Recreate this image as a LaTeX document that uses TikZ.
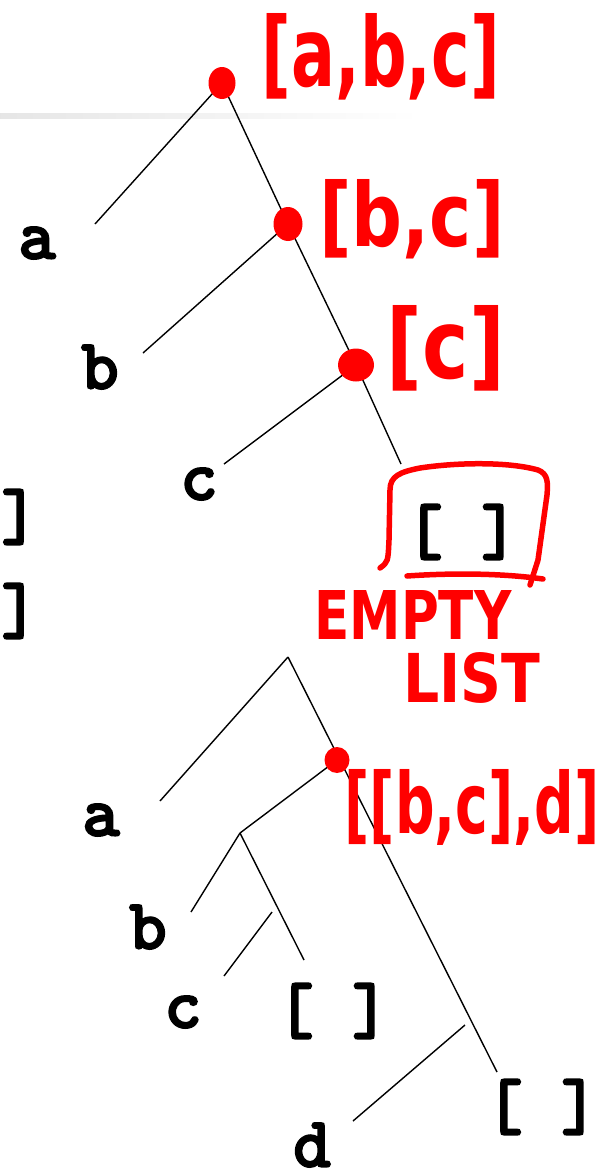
\documentclass[tikz,border=0pt]{standalone}
\usepackage{fontspec}
\usepackage{graphicx}
\newfontfamily\handfont{DejaVu Sans}
\newfontfamily\leaffont{lmmonolt10-bold.otf}[FakeBold=2.2]
\usetikzlibrary{shapes.geometric}

\tikzset{
  branch/.style={line width=1.4pt, black},
  leaf/.style={font=\leaffont\fontsize{72}{72}\selectfont, inner sep=0pt},
  knot/.style={ellipse, fill=red, draw=none, inner sep=0pt},
  note/.style={text=red, inner sep=0pt, font=\handfont\bfseries},
  scribble/.style={red, line width=5.5pt, line cap=round, line join=round},
}
% squeeze a handwritten-style note into a given width and height
\newcommand\notebox[3]{\resizebox{#1}{#2}{#3}}

\begin{document}
\begin{tikzpicture}[x=1pt, y=-1pt]
\useasboundingbox (0,0) rectangle (603,1173);

% faint rule across the top
\shade[left color=black!10, right color=white] (0,113) rectangle (420,118);

% ---- upper tree: [a,b,c] ----
\coordinate (T0) at (222,83);
\coordinate (T1) at (288,224);
\coordinate (T2) at (356,365);
\coordinate (ta) at (95,224);
\coordinate (tb) at (143,353);
\coordinate (tc) at (224,464);
\coordinate (te) at (401,464);

\draw[branch] (T0) -- (ta);
\draw[branch] (T0) -- (T1);
\draw[branch] (T1) -- (tb);
\draw[branch] (T1) -- (T2);
\draw[branch] (T2) -- (tc);
\draw[branch] (T2) -- (te);

\node[leaf] (la) at (37,243) {a};
\node[leaf] (lb) at (100,367) {b};
\node[leaf] (lc) at (199,484) {c};
\node[leaf] (lnil) at (462,532) {[ ]};

% partly hidden list endings at the left edge
\node[leaf] (r1) at (20,517) {]};
\node[leaf] (r2) at (20,611) {]};

% ---- lower tree: [[b,c],d] ----
\coordinate (B0) at (288,657);
\coordinate (B1) at (337,760);
\coordinate (B2) at (240,833);
\coordinate (ba) at (160,801);
\coordinate (be) at (497,1072);
\coordinate (bb) at (191,912);
\coordinate (bn) at (304,960);
\coordinate (cs1) at (272,912);
\coordinate (cs2) at (224,976);
\coordinate (ds1) at (465,1025);
\coordinate (ds2) at (353,1121);

\draw[branch] (B0) -- (ba);
\draw[branch] (B0) -- (be);
\draw[branch] (B1) -- (B2);
\draw[branch] (B2) -- (bb);
\draw[branch] (B2) -- (bn);
\draw[branch] (cs1) -- (cs2);
\draw[branch] (ds1) -- (ds2);

\node[leaf] (ma) at (101,820) {a};
\node[leaf] (mb) at (148,927) {b};
\node[leaf] (mc) at (183,1012) {c};
\node[leaf] (mnil) at (333,1011) {[ ]};
\node[leaf] (nnil) at (542,1107) {[ ]};
\node[leaf] (md) at (312,1145) {d};

% ---- red annotations ----
\node[knot, minimum width=27pt, minimum height=32pt] (k0) at (T0) {};
\node[knot, minimum width=29pt, minimum height=34pt] (k1) at (T1) {};
\node[knot, minimum width=36pt, minimum height=33pt] (k2) at (T2) {};
\node[knot, minimum width=25pt, minimum height=26pt] (k3) at (B1) {};

\node[note] (n0) at (381,57) {\notebox{238pt}{73pt}{[a,b,c]}};
\node[note] (n1) at (412,219) {\notebox{185pt}{67pt}{[b,c]}};
\node[note] (n2) at (446,348) {\notebox{118pt}{73pt}{[c]}};
\node[note] (n3) at (413,615) {\notebox{197pt}{49pt}{EMPTY}};
\node[note] (n4) at (472,678) {\notebox{137pt}{50pt}{LIST}};
\node[note] (n5) at (472,807) {\notebox{255pt}{64pt}{[[b,c],d]}};

% hand-drawn frame round the empty list
\draw[scribble] (380,568) .. controls (388,562) .. (389,540) -- (390,490)
  .. controls (390,476) and (400,472) .. (420,468)
  .. controls (460,462) and (510,462) .. (538,470)
  .. controls (548,474) and (548,482) .. (547,495)
  -- (538,560) -- (530,585);
\draw[scribble] (407,576) .. controls (450,573) and (500,573) .. (543,579);
\end{tikzpicture}
\end{document}
